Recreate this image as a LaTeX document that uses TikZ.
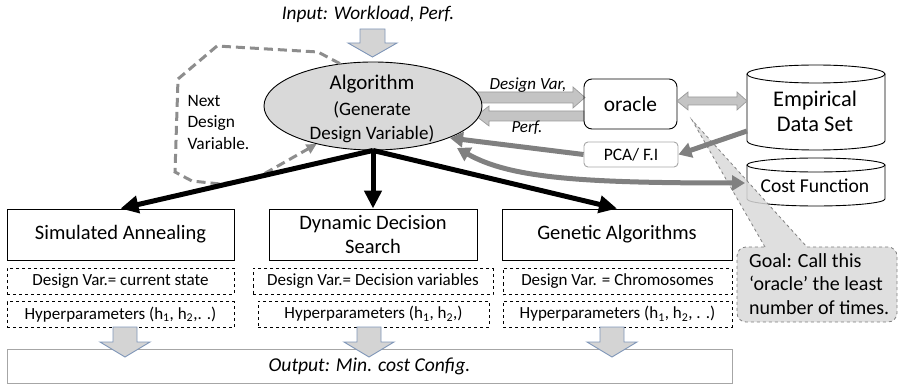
\documentclass[tikz,border=0pt]{standalone}
\usepackage{fontspec}
\setmainfont{Carlito}
\usetikzlibrary{shapes.geometric,arrows.meta,calc}

\definecolor{ellfill}{HTML}{D9D9D9}
\definecolor{blockfill}{HTML}{D4D4D4}
\definecolor{blockedge}{HTML}{7F96B8}
\definecolor{midgray}{HTML}{808080}
\definecolor{lightedge}{HTML}{A6A6A6}
\definecolor{barfill}{HTML}{C4C4C4}
\definecolor{baredge}{HTML}{9A9A9A}

\newcommand\fsz[2]{\fontsize{#1}{#2}\selectfont}

\begin{document}
\begin{tikzpicture}[x=1pt,y=-1pt,
  algbox/.style={draw, line width=0.9pt, inner sep=0pt, font=\fsz{20.5}{24}, align=center},
  dbox/.style={draw, dashed, line width=0.8pt, inner sep=0pt, minimum height=26pt, font=\fsz{17}{20}},
  blk/.style={line width=5pt, -{Triangle[length=18pt,width=17pt]}},
  garrow/.style={draw=midgray, line width=5pt, -{Triangle[length=13pt,width=15pt]}},
  loopline/.style={draw=midgray!90, line width=3pt, dash pattern=on 9pt off 5pt, -{Triangle[length=10pt,width=10pt]}},
  inblock/.style={fill=blockfill, draw=blockedge, line width=0.9pt},
  barblock/.style={fill=barfill, draw=baredge, line width=0.7pt},
  cyl/.style={draw, line width=0.9pt, fill=white},
  lbl/.style={font=\fsz{17}{20}\itshape},
]
\useasboundingbox (0,0) rectangle (898,385);

% input
\node[font=\fsz{19.3}{22}\itshape] (input) at (368,14) {Input: Workload, Perf.};
\draw[inblock] (360,29) -- (385,29) -- (385,43) -- (397,43) -- (372.5,57) -- (348,43) -- (360,43) -- cycle;

% oracle link arrows (drawn beneath the ellipse)
\draw[barblock] (470,92) -- (573,92) -- (573,87) -- (585,97.5) -- (573,108) -- (573,103) -- (470,103) -- cycle;
\draw[barblock] (584,111) -- (489,111) -- (489,106) -- (476,116) -- (489,126) -- (489,121) -- (584,121) -- cycle;

% algorithm ellipse
\node[ellipse, draw, line width=0.9pt, fill=ellfill, minimum width=218pt, minimum height=88pt] (alg) at (373,106) {};
\node[font=\fsz{21}{24}] (algtitle) at (372,84) {Algorithm};
\node[font=\fsz{19}{23.5}, align=center] (algsub) at (372,122) {(Generate\\Design Variable)};

% loop back to the algorithm
\coordinate (loopa) at (318,52);
\coordinate (loopb) at (217,46);
\coordinate (loopc) at (178,79);
\coordinate (loopd) at (175,172);
\coordinate (loope) at (192,181);
\coordinate (loopf) at (220,184);
\coordinate (loopg) at (255,179);
\draw[loopline] (alg.128) -- (loopa) -- (loopb) -- (loopc) -- (loopd) -- (loope) -- (loopf) -- (loopg) -- (alg.214);
\node[font=\fsz{17.4}{21.5}, align=left, anchor=west] (nextdv) at (184,122) {Next\\Design\\Variable.};

% oracle and data sources
\node[draw, line width=0.9pt, rounded corners=8pt, minimum width=93pt, minimum height=50pt, font=\fsz{21.4}{24}] (oracle) at (630.5,104) {oracle};
\node[draw=lightedge, line width=0.9pt, rounded corners=4pt, minimum width=94pt, minimum height=25pt, inner sep=0pt, font=\fsz{17.5}{20}] (pca) at (631,154.5) {PCA/ F.I};
\node[lbl] (dvlabel) at (528,85) {Design Var,};
\node[lbl] (perflabel) at (527,128) {Perf.};

% empirical data set cylinder
\draw[cyl] (747,74) -- (747,141) arc[start angle=180, end angle=0, x radius=69, y radius=9] -- (885,74);
\draw[cyl] (816,74) ellipse[x radius=69, y radius=9];
\node[font=\fsz{22.4}{25}, align=center] (emp) at (815,111) {Empirical\\Data Set};
% cost function cylinder
\draw[cyl] (747,165) -- (747,199) arc[start angle=180, end angle=0, x radius=69, y radius=7] -- (885,165);
\draw[cyl] (816,165) ellipse[x radius=69, y radius=7];
\node[font=\fsz{19.6}{22}] (cost) at (815,186) {Cost Function};

% double block arrow oracle <-> data set
\draw[barblock] (677,101) -- (688,92) -- (688,97) -- (737,97) -- (737,92) -- (747,101) -- (737,110) -- (737,105) -- (688,105) -- (688,110) -- cycle;

% goal callout
\coordinate (goal) at (749,284);
\draw[fill=ellfill, fill opacity=0.85, draw=midgray, dashed, line width=0.8pt]
  (765,247) -- (692,120) -- (807,247)
  {[rounded corners=9pt] -- (897,247) -- (897,322) -- (737,322) -- (737,247)} -- cycle;
\node[font=\fsz{20}{23.5}, align=left, anchor=west, inner sep=0pt] (goaltext) at (goal) {Goal: Call this\\‘oracle’ the least\\number of times.};

% feedback arrows
\coordinate (empout) at (747,131);
\coordinate (pcain) at (450,138);
\coordinate (costin) at (745,183);
\coordinate (costout) at (457,148);
\draw[garrow] (empout) -- (pca.east);
\draw[garrow] (pca.west) -- (pcain);
\draw[garrow, {Triangle[length=13pt,width=15pt]}-{Triangle[length=13pt,width=15pt]}] (costout) .. controls (510,178) and (580,183) .. (costin);

% algorithm boxes
\node[algbox, minimum width=227pt, minimum height=51pt] (sa) at (120.5,234.5) {Simulated Annealing};
\node[algbox, minimum width=208pt, minimum height=51pt] (dds) at (373,234.5) {Dynamic Decision\\Search};
\node[algbox, minimum width=230pt, minimum height=51pt] (ga) at (617,234.5) {Genetic Algorithms};

\draw[blk] (alg.south) -- (sa.north);
\draw[blk] (alg.south) -- (dds.north);
\draw[blk] (alg.south) -- (ga.north);

% design variable and hyperparameter rows
\node[dbox, minimum width=227pt] (sadv) at (120.5,281) {Design Var.= current state};
\node[dbox, minimum width=240pt] (ddsdv) at (373,281.5) {Design Var.= Decision variables};
\node[dbox, minimum width=229pt] (gadv) at (617.5,281.5) {Design Var. = Chromosomes};
\node[dbox, minimum width=227pt] (sahp) at (120.5,314.5) {Hyperparameters (h\textsubscript{1}, h\textsubscript{2},. .)};
\node[dbox, minimum width=231pt] (ddshp) at (373.5,314) {Hyperparameters (h\textsubscript{1}, h\textsubscript{2},)};
\node[dbox, minimum width=229pt] (gahp) at (617.5,314) {Hyperparameters (h\textsubscript{1}, h\textsubscript{2}, . .)};

% output
\node[draw=lightedge, line width=0.9pt, minimum width=725pt, minimum height=34pt, font=\fsz{19.6}{22}\itshape] (out) at (369.5,366) {Output: Min. cost Config.};
\foreach \cx in {125,369,612}{
  \draw[inblock] (\cx-12,327) -- (\cx+12,327) -- (\cx+12,342) -- (\cx+25,342) -- (\cx,357) -- (\cx-25,342) -- (\cx-12,342) -- cycle;
}
\end{tikzpicture}
\end{document}
